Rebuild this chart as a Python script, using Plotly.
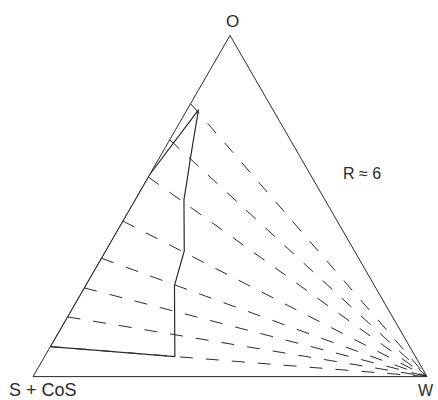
import plotly.graph_objects as go

# Dilution lines: O fraction on the O/(S+CoS) side, each running to the W corner
dilution_o = [0.088, 0.175, 0.26, 0.347, 0.456, 0.585, 0.694, 0.80]

# Phase boundary (a = O, b = S + CoS, c = W), closed polygon
bound_a = [0.0878, 0.0587, 0.2669, 0.3686, 0.5189, 0.577, 0.6401, 0.782, 0.5916, 0.0878]
bound_b = [0.9122, 0.6106, 0.5075, 0.4318, 0.3574, 0.3202, 0.2804, 0.189, 0.4084, 0.9122]
bound_c = [0.0, 0.3307, 0.2256, 0.1996, 0.1237, 0.1028, 0.0795, 0.029, 0.0, 0.0]

vertex_labels = ["O", "S + CoS", "W"]
ratio_label = "R ≈ 6"

ink = "#2a2a2a"
fig = go.Figure()

for f in dilution_o:
    fig.add_trace(go.Scatterternary(
        a=[f, 0.0], b=[1.0 - f, 0.0], c=[0.0, 1.0],
        mode="lines",
        line=dict(color=ink, width=1, dash="13px,13px"),
        hoverinfo="skip", showlegend=False,
    ))

fig.add_trace(go.Scatterternary(
    a=bound_a, b=bound_b, c=bound_c,
    mode="lines",
    line=dict(color=ink, width=1.2),
    hoverinfo="skip", showlegend=False,
))

axis_style = dict(
    title=dict(text=""), showticklabels=False, ticks="", showgrid=False,
    showline=True, linecolor=ink, linewidth=1, min=0,
)

W, H = 438, 400
ml, mr, mt, mb = 33, 11, 31, 19
pw, ph = W - ml - mr, H - mt - mb


def px(x, y):
    return (x - ml) / pw, (H - mb - y) / ph


fig.update_layout(
    width=W, height=H,
    margin=dict(l=ml, r=mr, t=mt, b=mb),
    paper_bgcolor="white",
    ternary=dict(
        sum=1, bgcolor="white",
        aaxis=axis_style, baxis=axis_style, caxis=axis_style,
    ),
    font=dict(family="Liberation Sans, Arial, sans-serif", color=ink),
)

label_pos = [(232, 22, 17), (43, 390, 18), (426, 391, 16)]
for text, (x, y, s) in zip(vertex_labels, label_pos):
    xp, yp = px(x, y)
    fig.add_annotation(x=xp, y=yp, xref="paper", yref="paper", text=text,
                       showarrow=False, xanchor="center", yanchor="middle",
                       font=dict(size=s, color=ink))

xp, yp = px(361.5, 173)
fig.add_annotation(x=xp, y=yp, xref="paper", yref="paper", text=ratio_label,
                   showarrow=False, xanchor="center", yanchor="middle",
                   font=dict(size=16, color=ink))

fig.write_html("out.html", config={"displayModeBar": False})
